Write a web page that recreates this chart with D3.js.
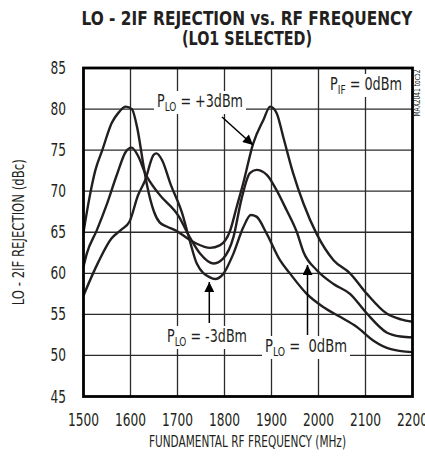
<!DOCTYPE html>
<html>
<head>
<meta charset="utf-8">
<script src="https://cdn.jsdelivr.net/npm/d3@7"></script>
<style>
  html, body { margin: 0; padding: 0; background: #fff; }
  svg { display: block; }
  text { font-family: "Liberation Sans Narrow", "Arial Narrow", "DejaVu Sans Condensed", sans-serif; fill: #231f20; }
</style>
</head>
<body>
<script>
// ticks
var xTicks = [1500, 1600, 1700, 1800, 1900, 2000, 2100, 2200];
var yTicks = [45, 50, 55, 60, 65, 70, 75, 80, 85];

// P_LO = +3dBm
var freqP3 = [1500, 1512, 1525, 1540, 1560, 1575, 1590, 1603, 1614, 1628, 1636, 1650, 1662, 1677, 1700, 1720, 1741, 1769, 1790, 1812, 1826, 1840, 1861, 1883, 1897, 1911, 1925, 1946, 1968, 1996, 2032, 2067, 2103, 2145, 2175, 2200];
var rejP3  = [65, 69, 72.5, 75, 78.3, 79.6, 80.3, 80, 77.8, 73, 70.5, 67.5, 66.2, 65.7, 65.1, 64.3, 63.6, 63.1, 63.4, 65.2, 68.1, 71, 75.8, 78.7, 80.3, 79.5, 76.6, 72.2, 68.5, 64.8, 61.6, 60, 57.5, 55.1, 54.4, 54.1];

// P_LO = 0dBm
var freqP0 = [1500, 1507, 1528, 1549, 1571, 1590, 1602, 1617, 1631, 1660, 1703, 1725, 1748, 1776, 1797, 1819, 1836, 1854, 1868, 1890, 1911, 1932, 1954, 1968, 1996, 2032, 2067, 2103, 2145, 2175, 2200];
var rejP0  = [60.8, 62.4, 65.2, 68.3, 72, 74.8, 75.3, 74.2, 72.2, 69.7, 66.9, 64.5, 62.4, 61.2, 61.8, 64.4, 69, 72.2, 72.6, 72, 70.1, 67.7, 65, 62.6, 60.4, 58.7, 57.5, 55.1, 52.8, 52.3, 52.2];

// P_LO = -3dBm
var freqM3 = [1500, 1531, 1559, 1580, 1598, 1616, 1631, 1649, 1655, 1667, 1685, 1710, 1725, 1741, 1769, 1780, 1797, 1819, 1840, 1856, 1868, 1890, 1918, 1939, 1975, 2010, 2046, 2081, 2117, 2152, 2200];
var rejM3  = [57.3, 61.3, 64.2, 65.3, 66.3, 69.5, 71.3, 74.4, 74.6, 73.8, 70.9, 67.3, 64.2, 61.2, 59.5, 59.3, 59.9, 62.4, 65.6, 67.1, 66.9, 64.8, 61.6, 60, 57.5, 55.9, 54.7, 53.5, 51.8, 50.8, 50.4];

(function() {
    var width = 425, height = 458;
    var plotLeft = 83.5, plotRight = 412.5, plotTop = 68, plotBottom = 396.5;

    var svg = d3.select('body')
        .append('svg')
        .attr('width', width)
        .attr('height', height);

    var x = d3.scaleLinear().domain([1500, 2200]).range([plotLeft, plotRight]);
    var y = d3.scaleLinear().domain([45, 85]).range([plotBottom, plotTop]);

    // grid
    svg.append('g')
        .selectAll('line')
        .data(xTicks.slice(1, -1))
        .enter()
        .append('line')
        .attr('x1', function(d) { return x(d); })
        .attr('x2', function(d) { return x(d); })
        .attr('y1', plotTop)
        .attr('y2', plotBottom)
        .attr('stroke', '#2b2b2b')
        .attr('stroke-width', 1.3);

    svg.append('g')
        .selectAll('line')
        .data(yTicks.slice(1, -1))
        .enter()
        .append('line')
        .attr('x1', plotLeft)
        .attr('x2', plotRight)
        .attr('y1', function(d) { return y(d); })
        .attr('y2', function(d) { return y(d); })
        .attr('stroke', '#2b2b2b')
        .attr('stroke-width', 1.3);

    // curves
    svg.append('clipPath')
        .attr('id', 'plot')
        .append('rect')
        .attr('x', plotLeft)
        .attr('y', plotTop)
        .attr('width', plotRight - plotLeft)
        .attr('height', plotBottom - plotTop);

    var line = d3.line()
        .x(function(d) { return x(d[0]); })
        .y(function(d) { return y(d[1]); })
        .curve(d3.curveMonotoneX);

    var series = [d3.zip(freqP3, rejP3), d3.zip(freqP0, rejP0), d3.zip(freqM3, rejM3)];

    svg.append('g')
        .attr('clip-path', 'url(#plot)')
        .selectAll('path')
        .data(series)
        .enter()
        .append('path')
        .attr('d', line)
        .attr('fill', 'none')
        .attr('stroke', '#231f20')
        .attr('stroke-width', 2.4)
        .attr('stroke-linejoin', 'round');

    // frame
    svg.append('rect')
        .attr('x', plotLeft)
        .attr('y', plotTop)
        .attr('width', plotRight - plotLeft)
        .attr('height', plotBottom - plotTop)
        .attr('fill', 'none')
        .attr('stroke', '#000')
        .attr('stroke-width', 2.8);

    // tick labels
    svg.append('g')
        .selectAll('text')
        .data(xTicks)
        .enter()
        .append('text')
        .attr('x', function(d) { return x(d); })
        .attr('y', 426)
        .attr('text-anchor', 'middle')
        .attr('font-size', 17)
        .attr('textLength', 31)
        .attr('lengthAdjust', 'spacingAndGlyphs')
        .text(function(d) { return d; });

    svg.append('g')
        .selectAll('text')
        .data(yTicks)
        .enter()
        .append('text')
        .attr('x', 66)
        .attr('y', function(d) { return y(d) + 6; })
        .attr('text-anchor', 'end')
        .attr('font-size', 17)
        .attr('textLength', 15.5)
        .attr('lengthAdjust', 'spacingAndGlyphs')
        .text(function(d) { return d; });

    // titles
    svg.append('text')
        .attr('x', 247)
        .attr('y', 25)
        .attr('text-anchor', 'middle')
        .attr('font-size', 19)
        .attr('font-weight', 'bold')
        .attr('textLength', 331)
        .attr('lengthAdjust', 'spacingAndGlyphs')
        .text('LO - 2IF REJECTION vs. RF FREQUENCY');

    svg.append('text')
        .attr('x', 247)
        .attr('y', 45)
        .attr('text-anchor', 'middle')
        .attr('font-size', 19)
        .attr('font-weight', 'bold')
        .attr('textLength', 130)
        .attr('lengthAdjust', 'spacingAndGlyphs')
        .text('(LO1 SELECTED)');

    svg.append('text')
        .attr('x', 247.5)
        .attr('y', 447)
        .attr('text-anchor', 'middle')
        .attr('font-size', 16)
        .attr('textLength', 197)
        .attr('lengthAdjust', 'spacingAndGlyphs')
        .text('FUNDAMENTAL RF FREQUENCY (MHz)');

    svg.append('text')
        .attr('transform', 'translate(24,' + ((plotTop + plotBottom) / 2) + ') rotate(-90)')
        .attr('text-anchor', 'middle')
        .attr('font-size', 16)
        .attr('textLength', 146)
        .attr('lengthAdjust', 'spacingAndGlyphs')
        .text('LO - 2IF REJECTION (dBc)');

    svg.append('text')
        .attr('transform', 'translate(420,93) rotate(-90)')
        .attr('text-anchor', 'middle')
        .attr('font-size', 9)
        .attr('textLength', 47)
        .attr('lengthAdjust', 'spacingAndGlyphs')
        .text('MAX2041 toc52');

    // annotations with subscript
    function label(px, py, sub, rest, len) {
        var t = svg.append('text')
            .attr('x', px)
            .attr('y', py)
            .attr('font-size', 17)
            .attr('xml:space', 'preserve');
        t.append('tspan').text('P');
        t.append('tspan').attr('font-size', 12).attr('dy', 4).text(sub);
        t.append('tspan').attr('dy', -4).text(rest);
        var b = t.node().getBBox();
        if (b.width > len) {
            t.attr('textLength', len).attr('lengthAdjust', 'spacingAndGlyphs');
            b = t.node().getBBox();
        }
        svg.insert('rect', function() { return t.node(); })
            .attr('x', b.x - 3)
            .attr('y', b.y)
            .attr('width', b.width + 6)
            .attr('height', b.height)
            .attr('fill', '#fff');
    }

    label(330, 90, 'IF', ' = 0dBm', 72);
    label(157, 107, 'LO', ' = +3dBm', 86);
    label(167, 342, 'LO', ' = -3dBm', 80);
    label(265, 352, 'LO', ' =  0dBm', 82);

    // arrows
    svg.append('defs')
        .append('marker')
        .attr('id', 'head')
        .attr('viewBox', '0 0 10 10')
        .attr('refX', 10)
        .attr('refY', 5)
        .attr('markerUnits', 'userSpaceOnUse')
        .attr('markerWidth', 14)
        .attr('markerHeight', 10)
        .attr('orient', 'auto')
        .append('path')
        .attr('d', 'M0,0L10,5L0,10Z')
        .attr('fill', '#000');

    var arrows = [[222, 117, 253, 145], [209.3, 323, 209.3, 282], [307.5, 335, 307.5, 265]];
    svg.append('g')
        .selectAll('line')
        .data(arrows)
        .enter()
        .append('line')
        .attr('x1', function(d) { return d[0]; })
        .attr('y1', function(d) { return d[1]; })
        .attr('x2', function(d) { return d[2]; })
        .attr('y2', function(d) { return d[3]; })
        .attr('stroke', '#000')
        .attr('stroke-width', 1.5)
        .attr('marker-end', 'url(#head)');
})();
</script>
</body>
</html>
